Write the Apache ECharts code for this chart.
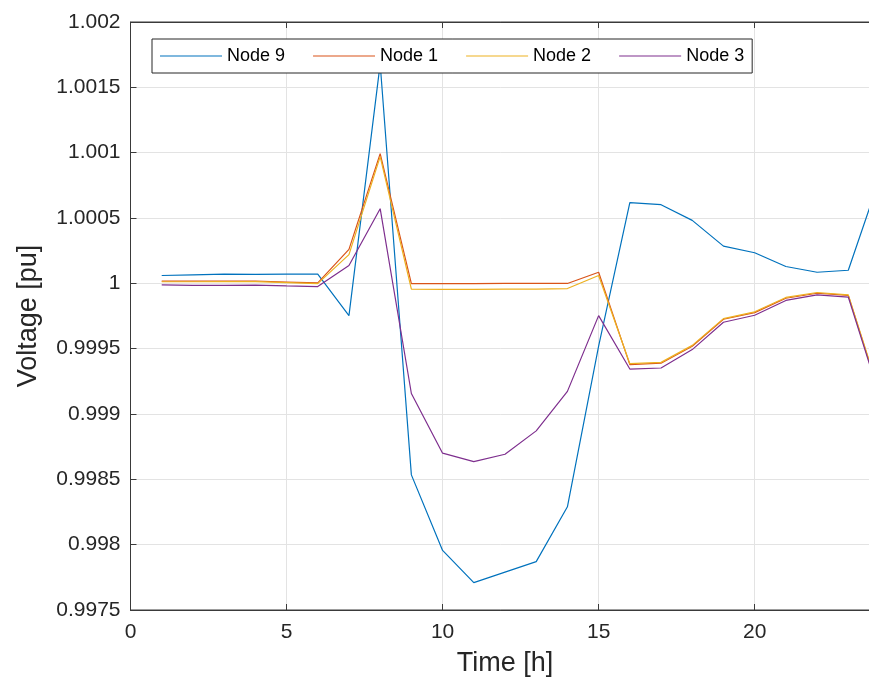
<!DOCTYPE html>
<html>
<head>
<meta charset="utf-8">
<script src="https://cdn.jsdelivr.net/npm/echarts@6/dist/echarts.min.js"></script>
<style>
html,body{margin:0;padding:0;background:#fff;}
#chart{width:869px;height:690px;}
</style>
</head>
<body>
<div id="chart"></div>
<script>
const hours = [1,2,3,4,5,6,7,8,9,10,11,12,13,14,15,16,17,18,19,20,21,22,23,24];
const node9 = [1.00006,1.000065,1.00007,1.000068,1.00007,1.00007,0.999753,1.00168,0.998534,0.997956,0.99771,0.99779,0.99787,0.99829,0.99952,1.000617,1.000602,1.000482,1.000285,1.000234,1.000129,1.000085,1.0001,1.0008];
const node1 = [1.000017,1.000017,1.000018,1.000018,1.00001,1.000003,1.00026,1.000993,0.999998,0.999998,0.999998,0.999999,0.999999,0.999999,1.000085,0.999378,0.999389,0.999518,0.999725,0.999776,0.999886,0.999924,0.999908,0.99915];
const node2 = [1.000012,1.000012,1.000013,1.000013,1.000005,0.999998,1.00022,1.00097,0.999955,0.999953,0.999953,0.999955,0.999956,0.99996,1.00006,0.999385,0.999395,0.999525,0.99973,0.999782,0.999892,0.99993,0.999912,0.99916];
const node3 = [0.999988,0.999985,0.999984,0.999986,0.99998,0.999975,1.000137,1.000571,0.999157,0.9987,0.998636,0.998692,0.998871,0.999173,0.999753,0.999344,0.999352,0.999493,0.999702,0.999756,0.999869,0.999912,0.999895,0.99914];
const seriesNames = ['Node 9','Node 1','Node 2','Node 3'];
const seriesColors = ['#0072BD','#D95319','#EDB120','#7E2F8E'];
const xTicks = [0,5,10,15,20];
const yTickLabels = ['0.9975','0.998','0.9985','0.999','0.9995','1','1.0005','1.001','1.0015','1.002'];

const font = 'Liberation Sans, Arial, Helvetica, sans-serif';
const dark = '#262626';
const allData = [node9, node1, node2, node3];

const chart = echarts.init(document.getElementById('chart'), null, {renderer:'canvas'});
const axisCommon = {
  axisLine:{show:true, lineStyle:{color:'#3a3a3a', width:1}},
  axisTick:{show:true, inside:true, length:6, lineStyle:{color:'#3a3a3a', width:1}},
};
chart.setOption({
  animation:false,
  backgroundColor:'#ffffff',
  grid:{left:130.5, top:22, width:749, height:588, show:true, borderColor:'#3a3a3a', borderWidth:1,
        containLabel:false, outerBoundsMode:'none'},
  legend:{
    data:seriesNames.map(function(n,i){ return {name:n, icon:'rect', itemStyle:{color:seriesColors[i]}}; }),
    left:152, top:39, z:10,
    orient:'horizontal',
    itemWidth:62, itemHeight:1.2, itemGap:28,
    padding:[8,8,8,8],
    backgroundColor:'#ffffff',
    borderColor:dark, borderWidth:1,
    textStyle:{fontFamily:font, fontSize:18, color:'#000', lineHeight:18},
  },
  xAxis:[{
    type:'value', min:0, max:24, interval:5,
    name:'Time [h]', nameLocation:'middle', nameGap:40,
    nameTextStyle:{fontFamily:font, fontSize:27, color:dark},
    axisLabel:{fontFamily:font, fontSize:21, color:dark, margin:12,
      formatter:function(v){ return xTicks.indexOf(v) >= 0 ? String(v) : ''; }},
    splitLine:{show:true, lineStyle:{color:'#e3e3e3', width:1}},
    ...axisCommon
  },{
    type:'value', min:0, max:24, interval:5, position:'top',
    axisLabel:{show:false}, splitLine:{show:false},
    ...axisCommon
  }],
  yAxis:{
    type:'value', min:0.9975, max:1.002, interval:0.0005,
    name:'Voltage [pu]', nameLocation:'middle', nameGap:88,
    nameTextStyle:{fontFamily:font, fontSize:27, color:dark},
    axisLabel:{fontFamily:font, fontSize:21, color:dark, margin:10,
      formatter:function(v){ const s = String(+v.toFixed(4)); return yTickLabels.indexOf(s) >= 0 ? s : ''; }},
    splitLine:{show:true, lineStyle:{color:'#e3e3e3', width:1}},
    ...axisCommon
  },
  series: seriesNames.map(function(n,i){
    return {
      name:n, type:'line', symbol:'none', showSymbol:false,
      data: hours.map(function(h,j){ return [h, allData[i][j]]; }),
      lineStyle:{color:seriesColors[i], width:1.2},
      itemStyle:{color:seriesColors[i]},
      clip:true
    };
  })
});
</script>
</body>
</html>
